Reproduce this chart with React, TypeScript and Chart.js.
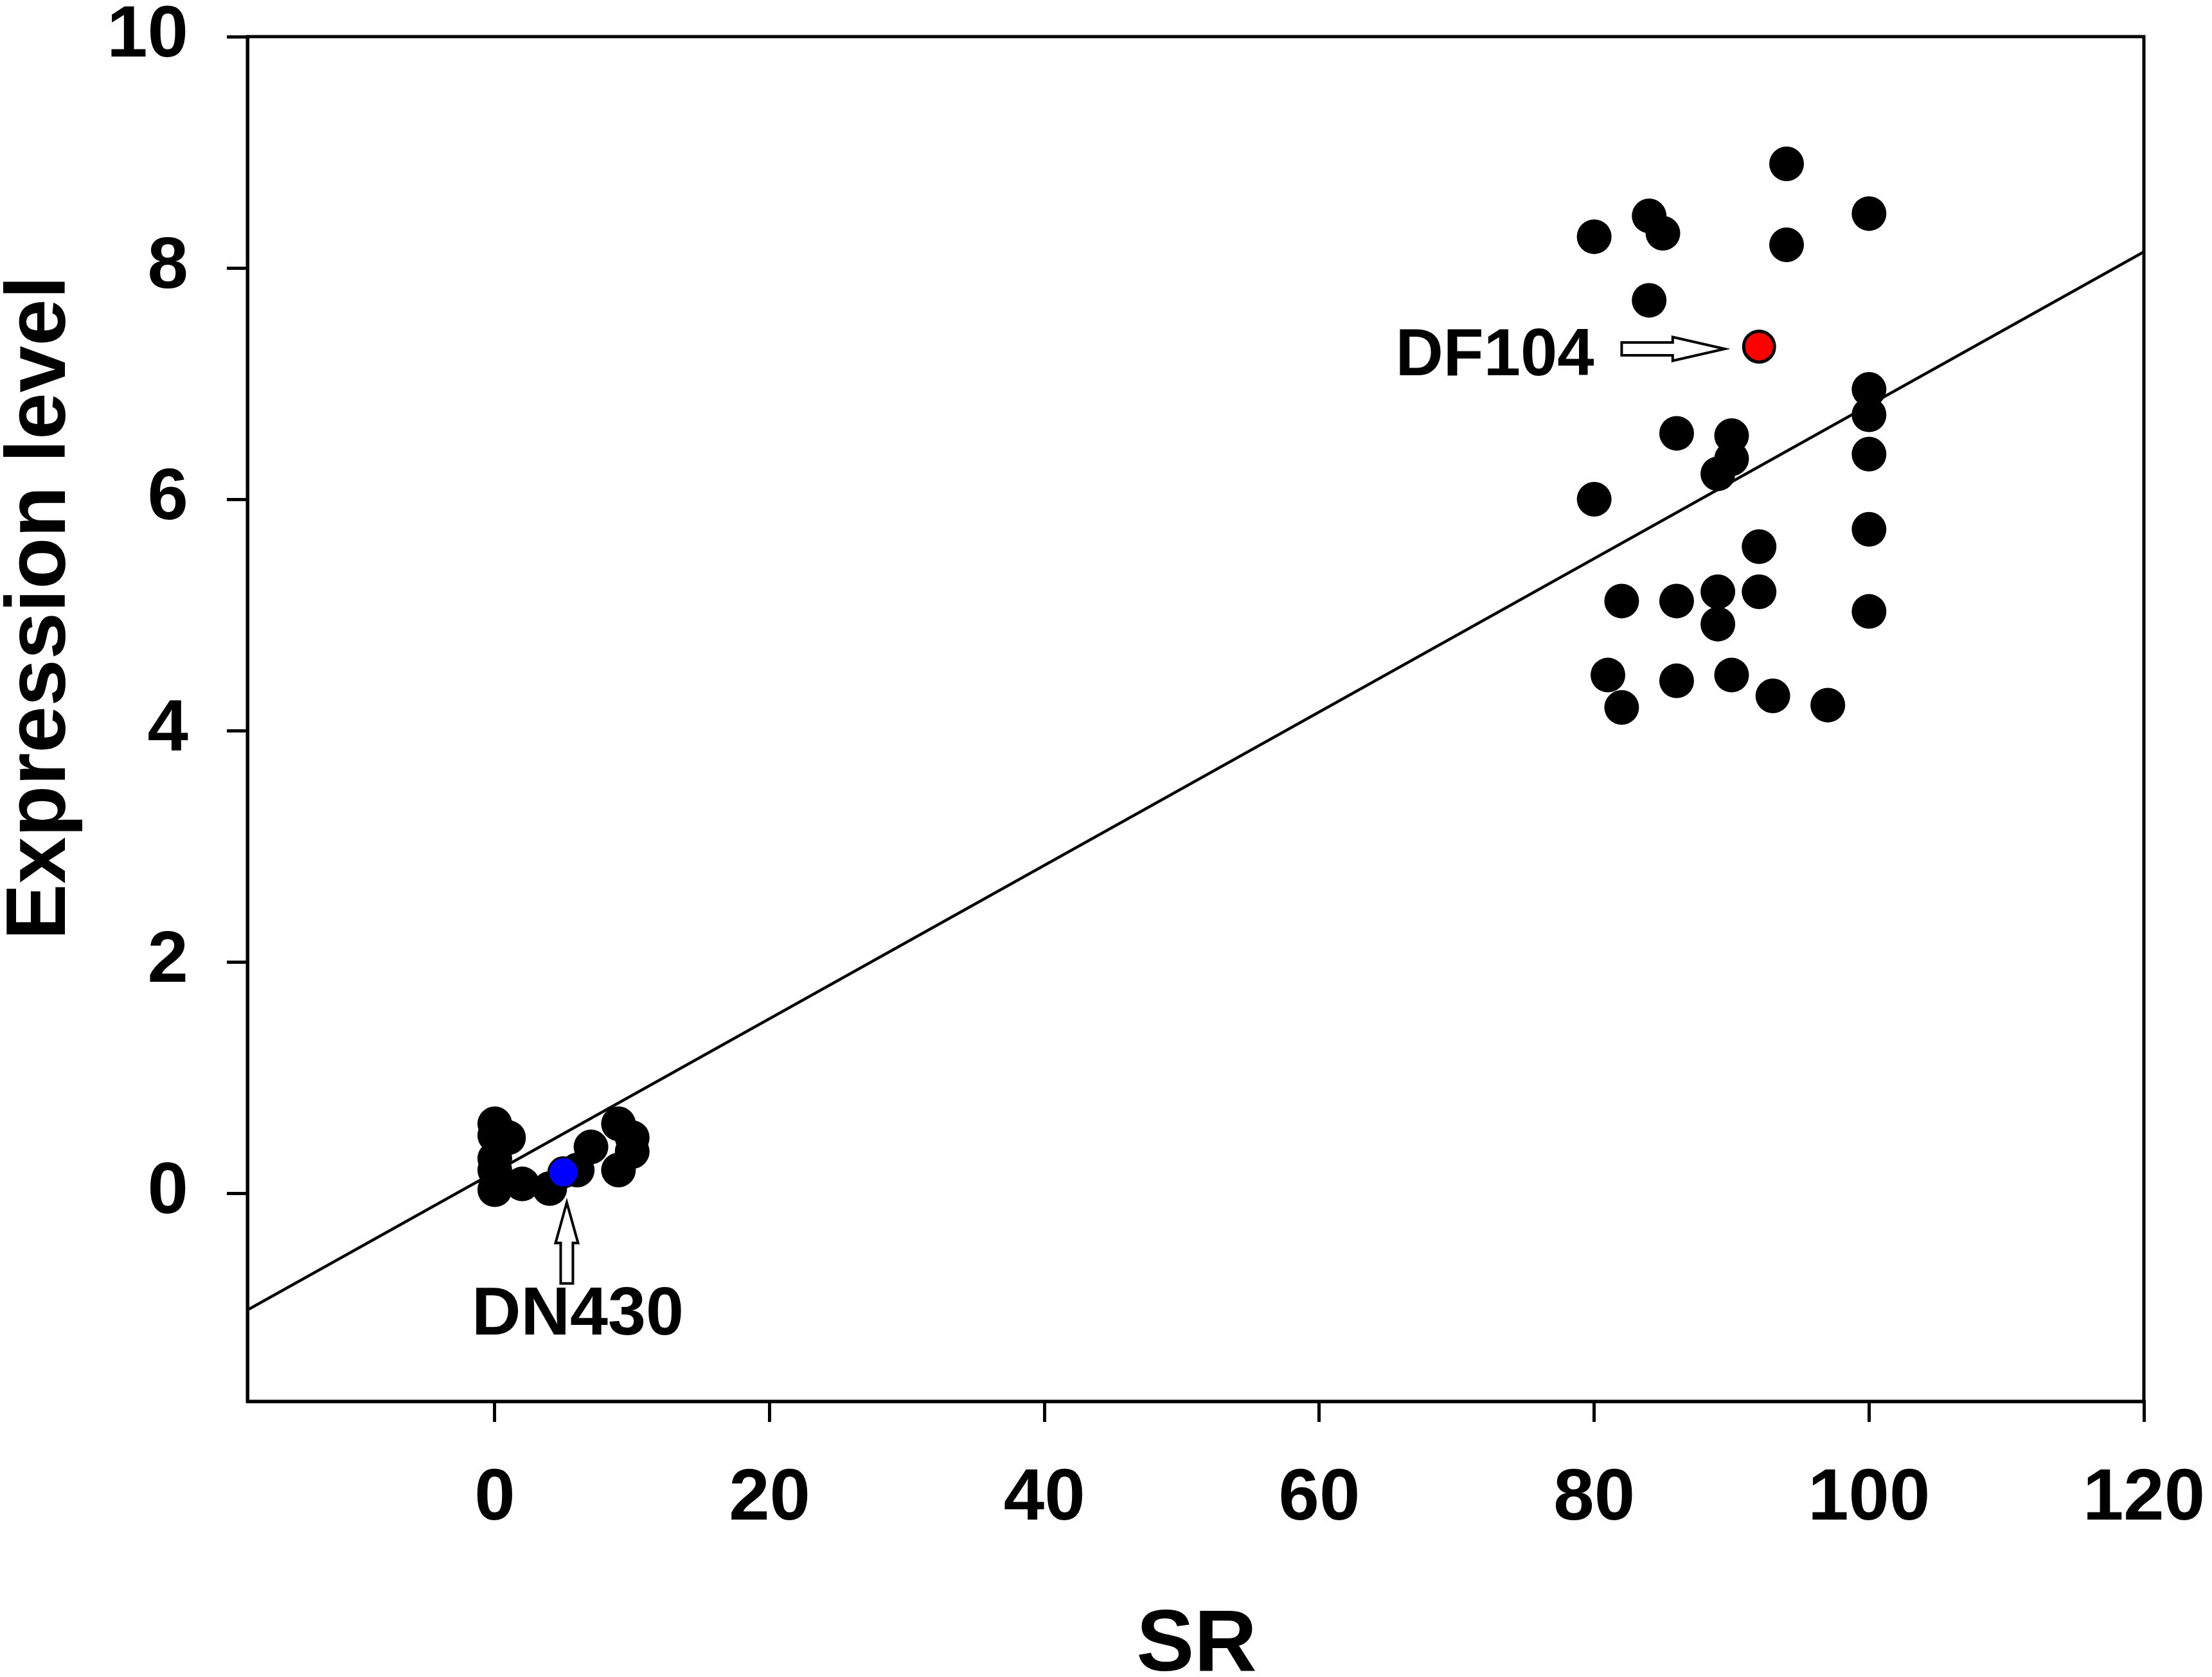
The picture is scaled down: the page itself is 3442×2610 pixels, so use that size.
import React, { useEffect, useRef } from 'react';
import { Chart, registerables } from 'chart.js';

Chart.register(...registerables);

// low-SR group (near the origin)
const lowSR = [0, 0, 0, 0, 0, 1, 2, 4, 6, 7, 9, 9, 10, 10];
const lowExpr = [0.6, 0.5, 0.3, 0.2, 0.03, 0.48, 0.08, 0.04, 0.2, 0.4, 0.6, 0.2, 0.48, 0.36];

// high-SR group
const highSR = [94, 100, 80, 84, 85, 94, 84, 100, 100, 86, 90, 90, 89, 100, 80, 92, 100, 82, 86, 89, 92, 89, 100, 81, 82, 86, 90, 93, 97];
const highExpr = [8.9, 8.47, 8.27, 8.45, 8.3, 8.2, 7.72, 6.95, 6.73, 6.57, 6.55, 6.35, 6.22, 6.39, 6.0, 5.59, 5.74, 5.12, 5.12, 5.2, 5.2, 4.92, 5.03, 4.48, 4.2, 4.43, 4.48, 4.3, 4.22];

// highlighted lines
const df104SR = [92];
const df104Expr = [7.32];
const dn430SR = [5];
const dn430Expr = [0.18];

// linear fit
const fitIntercept = 0.183;
const fitSlope = 0.0663;

const xMin = -18;
const xMax = 120;
const yMin = -1.8;
const yMax = 10;
const xTicks = [0, 20, 40, 60, 80, 100, 120];
const yTicks = [0, 2, 4, 6, 8, 10];

const FONT = '"Liberation Sans", Arial, Helvetica, sans-serif';

const toPoints = (xs: number[], ys: number[]) => xs.map((x, i) => ({ x, y: ys[i] }));

function drawArrow(ctx: CanvasRenderingContext2D, tx: number, ty: number, hx: number, hy: number,
    shaftW: number, headW: number, headL: number) {
    const ang = Math.atan2(hy - ty, hx - tx);
    const len = Math.hypot(hx - tx, hy - ty);
    ctx.save();
    ctx.translate(tx, ty);
    ctx.rotate(ang);
    ctx.beginPath();
    ctx.moveTo(0, -shaftW / 2);
    ctx.lineTo(len - headL, -shaftW / 2);
    ctx.lineTo(len - headL, -headW / 2);
    ctx.lineTo(len, 0);
    ctx.lineTo(len - headL, headW / 2);
    ctx.lineTo(len - headL, shaftW / 2);
    ctx.lineTo(0, shaftW / 2);
    ctx.closePath();
    ctx.fillStyle = '#fff';
    ctx.fill();
    ctx.lineWidth = 4;
    ctx.strokeStyle = '#000';
    ctx.lineJoin = 'miter';
    ctx.stroke();
    ctx.restore();
}

const framePlugin = {
    id: 'frameAndNotes',
    afterDatasetsDraw(chart: any) {
        const { ctx, chartArea, scales } = chart;
        const x = scales.x;
        const y = scales.y;
        ctx.save();
        ctx.strokeStyle = '#000';
        ctx.lineWidth = 5;
        ctx.strokeRect(chartArea.left, chartArea.top, chartArea.right - chartArea.left, chartArea.bottom - chartArea.top);

        // DF104 callout
        drawArrow(ctx, x.getPixelForValue(82.0), y.getPixelForValue(7.3),
            x.getPixelForValue(89.5), y.getPixelForValue(7.3), 20, 37, 81);
        ctx.fillStyle = '#000';
        ctx.font = `bold 103px ${FONT}`;
        ctx.textAlign = 'right';
        ctx.textBaseline = 'alphabetic';
        ctx.fillText('DF104', x.getPixelForValue(80.0), y.getPixelForValue(7.07));

        // DN430 callout
        drawArrow(ctx, x.getPixelForValue(5.24), y.getPixelForValue(-0.78),
            x.getPixelForValue(5.24), y.getPixelForValue(-0.08), 19, 35, 63);
        ctx.fillStyle = '#000';
        ctx.textAlign = 'center';
        ctx.font = `bold 106px ${FONT}`;
        ctx.fillText('DN430', x.getPixelForValue(6.03), y.getPixelForValue(-1.22));
        ctx.restore();
    },
    afterDraw(chart: any) {
        const { ctx } = chart;
        ctx.save();
        ctx.fillStyle = '#000';
        ctx.textAlign = 'center';
        ctx.textBaseline = 'alphabetic';
        ctx.font = `bold 135px ${FONT}`;
        ctx.fillText('SR', 1862, 2600);
        ctx.translate(101, 946);
        ctx.rotate(-Math.PI / 2);
        ctx.font = `bold 131px ${FONT}`;
        ctx.fillText('Expression level', 0, 0);
        ctx.restore();
    },
};

const App: React.FC = () => {
    const chartRef = useRef<HTMLCanvasElement | null>(null);

    useEffect(() => {
        if (!chartRef.current) return;
        const ctx = chartRef.current.getContext('2d');
        if (!ctx) return;

        const fitLine = [xMin, xMax].map(x => ({ x, y: fitIntercept + fitSlope * x }));

        const chart = new Chart(ctx, {
            type: 'scatter',
            data: {
                datasets: [
                    {
                        label: 'fit',
                        data: fitLine,
                        showLine: true,
                        borderColor: '#000',
                        borderWidth: 4.5,
                        pointRadius: 0,
                        order: 3,
                    } as any,
                    {
                        label: 'high',
                        data: toPoints(highSR, highExpr),
                        backgroundColor: '#000',
                        borderColor: '#000',
                        borderWidth: 0,
                        pointRadius: 27,
                        order: 2,
                    },
                    {
                        label: 'low',
                        data: toPoints(lowSR, lowExpr),
                        backgroundColor: '#000',
                        borderColor: '#000',
                        borderWidth: 0,
                        pointRadius: 27,
                        order: 2,
                    },
                    {
                        label: 'DF104',
                        data: toPoints(df104SR, df104Expr),
                        backgroundColor: '#ff0000',
                        borderColor: '#000',
                        borderWidth: 5,
                        pointRadius: 24,
                        order: 1,
                    },
                    {
                        label: 'DN430',
                        data: toPoints(dn430SR, dn430Expr),
                        backgroundColor: '#0000ff',
                        borderColor: '#000',
                        borderWidth: 3,
                        pointRadius: 23.5,
                        order: 1,
                    },
                ],
            },
            options: {
                animation: false,
                responsive: true,
                maintainAspectRatio: false,
                layout: { padding: { top: 57, right: 106, left: 0, bottom: 0 } },
                plugins: {
                    legend: { display: false },
                    tooltip: { enabled: false },
                },
                scales: {
                    x: {
                        type: 'linear',
                        min: xMin,
                        max: xMax,
                        afterBuildTicks: (scale: any) => { scale.ticks = xTicks.map(v => ({ value: v })); },
                        afterFit: (scale: any) => {
                            scale.height = 429;
                            scale.paddingLeft = 0;
                            scale.paddingRight = 0;
                        },
                        border: { display: true, color: '#000', width: 5 },
                        grid: { drawOnChartArea: false, drawTicks: true, tickLength: 32, color: '#000', lineWidth: 5 },
                        ticks: {
                            color: '#000',
                            padding: 52,
                            maxRotation: 0,
                            font: { family: FONT, size: 114, weight: 'bold' },
                        },
                    },
                    y: {
                        type: 'linear',
                        min: yMin,
                        max: yMax,
                        afterBuildTicks: (scale: any) => { scale.ticks = yTicks.map(v => ({ value: v })); },
                        afterFit: (scale: any) => {
                            scale.width = 385;
                            scale.paddingTop = 0;
                            scale.paddingBottom = 0;
                        },
                        border: { display: true, color: '#000', width: 5 },
                        grid: { drawOnChartArea: false, drawTicks: true, tickLength: 32, color: '#000', lineWidth: 5 },
                        ticks: {
                            color: '#000',
                            padding: 60,
                            font: { family: FONT, size: 114, weight: 'bold' },
                        },
                    },
                },
            },
            plugins: [framePlugin],
        });

        return () => {
            chart.destroy();
        };
    }, []);

    return (
        <div style={{ position: 'absolute', left: 0, top: 0, width: 3442, height: 2610, background: '#fff' }}>
            <canvas ref={chartRef}></canvas>
        </div>
    );
};

export default App;
